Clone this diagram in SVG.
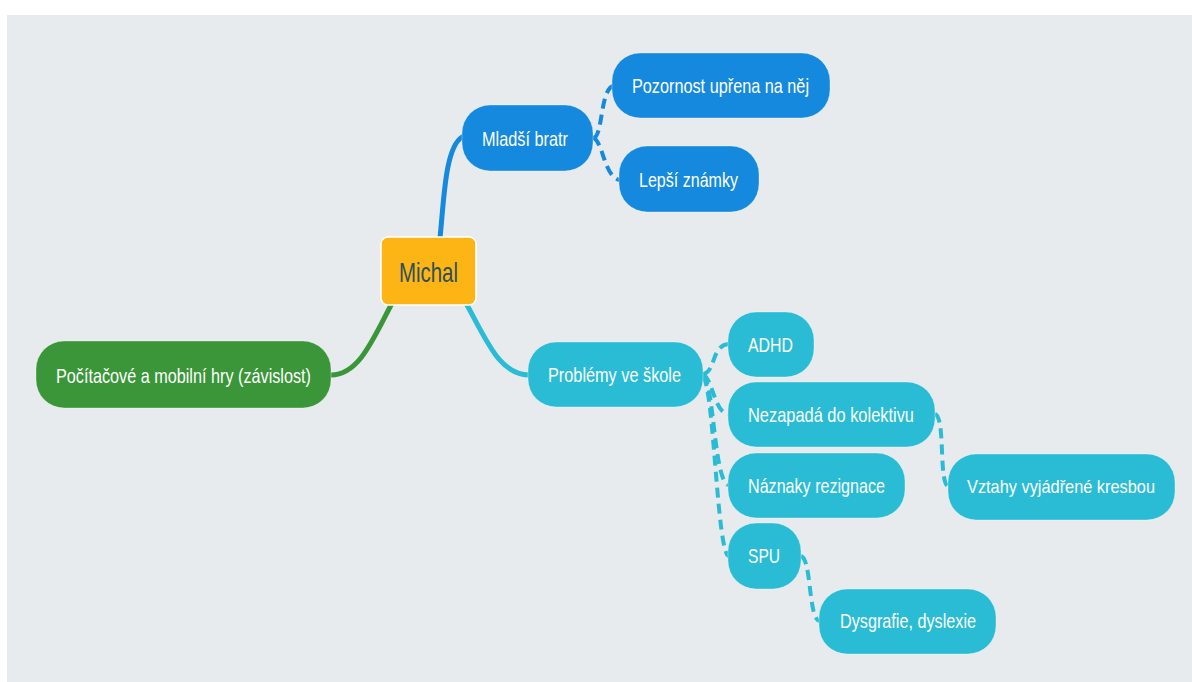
<svg xmlns="http://www.w3.org/2000/svg" width="1192" height="682" viewBox="0 0 1192 682">
<style>
.bg{fill:#e7ebee}
.blue{fill:#1589dd}
.cyan{fill:#29bcd4}
.green{fill:#3a9639}
.node{stroke:#ffffff;stroke-opacity:0.35;stroke-width:1}
.t{font-family:"Liberation Sans",Arial,sans-serif;font-size:21px;fill:#ffffff}
.solid{fill:none;stroke-width:5;stroke-linecap:round}
.dash{fill:none;stroke:#29bcd4;stroke-width:4;stroke-dasharray:10 6}
.dashb{stroke:#1589dd}
</style>
<rect x="0" y="0" width="1192" height="682" fill="#ffffff"/>
<rect class="bg" x="7" y="15" width="1185" height="667"/>
<g id="connectors">
<path class="solid" stroke="#1589dd" d="M440,238 C444,200 445,148 462,137"/>
<path class="solid" stroke="#3a9639" d="M391,305 C372,342 358,375 331,375"/>
<path class="solid" stroke="#29bcd4" d="M467,305 C488,343 500,375 530,375"/>
<path class="dash dashb" d="M593,138 C603,138 600,90 613,86"/>
<path class="dash dashb" d="M593,138 C603,140 604,178 620,180"/>
<path class="dash" d="M703,374 C716,372 711,345 729,344"/>
<path class="dash" d="M703,375 C713,378 714,414 729,414"/>
<path class="dash" d="M703,376 C714,380 714,485 729,485"/>
<path class="dash" d="M703,377 C714,386 717,556 729,556"/>
<path class="dash" d="M935,414 C946,418 938,485 949,487"/>
<path class="dash" d="M801,556 C812,560 808,620 820,621"/>
</g>
<g id="michal">
<rect x="381" y="237" width="95" height="68" rx="7" fill="#fdb515" stroke="#ffffff" stroke-width="1.5"/>
<text x="428.5" y="282" text-anchor="middle" font-family="Liberation Sans, Arial, sans-serif" font-size="28" fill="#2d4f5c" textLength="59" lengthAdjust="spacingAndGlyphs">Michal</text>
</g>
<g id="mladsi-bratr">
<rect class="blue node" x="462" y="105" width="131" height="66" rx="28"/>
<text class="t" x="482" y="146" textLength="86" lengthAdjust="spacingAndGlyphs">Mladší bratr</text>
</g>
<g id="pozornost">
<rect class="blue node" x="612" y="53" width="218" height="65" rx="28"/>
<text class="t" x="632" y="93" textLength="177" lengthAdjust="spacingAndGlyphs">Pozornost upřena na něj</text>
</g>
<g id="lepsi-znamky">
<rect class="blue node" x="619" y="146" width="140" height="66" rx="28"/>
<text class="t" x="639" y="187" textLength="99" lengthAdjust="spacingAndGlyphs">Lepší známky</text>
</g>
<g id="pocitacove-hry">
<rect class="green node" x="36" y="341" width="295" height="67" rx="28"/>
<text class="t" x="56" y="383" textLength="255" lengthAdjust="spacingAndGlyphs">Počítačové a mobilní hry (závislost)</text>
</g>
<g id="problemy">
<rect class="cyan node" x="528" y="342" width="175" height="65" rx="28"/>
<text class="t" x="548" y="382" textLength="133" lengthAdjust="spacingAndGlyphs">Problémy ve škole</text>
</g>
<g id="adhd">
<rect class="cyan node" x="728" y="312" width="86" height="65" rx="28"/>
<text class="t" x="748" y="352" textLength="45" lengthAdjust="spacingAndGlyphs">ADHD</text>
</g>
<g id="nezapada">
<rect class="cyan node" x="728" y="382" width="207" height="65" rx="28"/>
<text class="t" x="748" y="422" textLength="166" lengthAdjust="spacingAndGlyphs">Nezapadá do kolektivu</text>
</g>
<g id="naznaky">
<rect class="cyan node" x="728" y="453" width="177" height="65" rx="28"/>
<text class="t" x="748" y="493" textLength="137" lengthAdjust="spacingAndGlyphs">Náznaky rezignace</text>
</g>
<g id="spu">
<rect class="cyan node" x="728" y="523" width="73" height="66" rx="28"/>
<text class="t" x="748" y="563" textLength="32" lengthAdjust="spacingAndGlyphs">SPU</text>
</g>
<g id="vztahy">
<rect class="cyan node" x="948" y="454" width="227" height="66" rx="28"/>
<text class="t" x="967" y="493" font-size="19" style="font-size:19px" textLength="188" lengthAdjust="spacingAndGlyphs">Vztahy vyjádřené kresbou</text>
</g>
<g id="dysgrafie">
<rect class="cyan node" x="819" y="589" width="177" height="65" rx="28"/>
<text class="t" x="840" y="628" textLength="136" lengthAdjust="spacingAndGlyphs">Dysgrafie, dyslexie</text>
</g>
</svg>
